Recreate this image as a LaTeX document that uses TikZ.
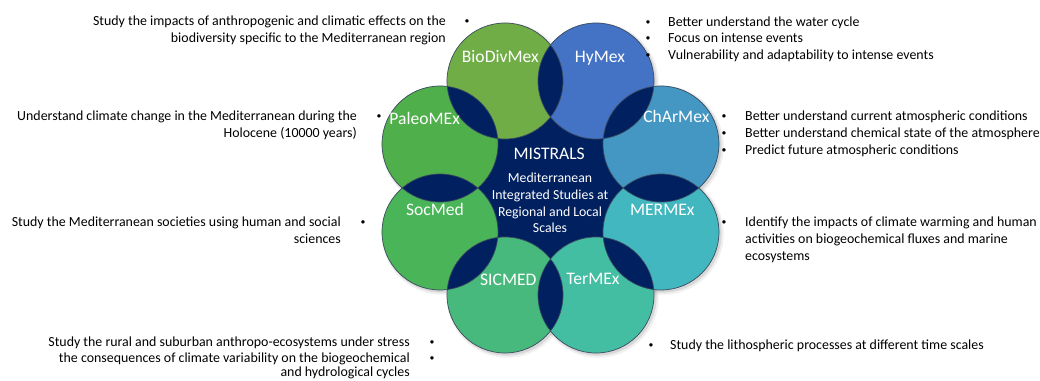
\documentclass[tikz,border=0pt]{standalone}
\usepackage{fontspec}
\setmainfont{Carlito}
\newfontfamily\bulfont{Liberation Sans}
\definecolor{navy}{HTML}{002060}
\definecolor{colBio}{HTML}{70AD47}
\definecolor{colHy}{HTML}{4472C4}
\definecolor{colChAr}{HTML}{4397C2}
\definecolor{colMer}{HTML}{43B7BF}
\definecolor{colTer}{HTML}{43BEA2}
\definecolor{colSic}{HTML}{47B97C}
\definecolor{colSoc}{HTML}{49B558}
\definecolor{colPal}{HTML}{4FAF4B}
\definecolor{edgecol}{HTML}{3A4A5E}
\tikzset{
  body/.style={font=\fontsize{13.9}{16.7}\selectfont, inner sep=0pt, text=black},
  bul/.style={font=\bulfont\fontsize{12.5}{16.7}\selectfont, inner sep=0pt, anchor=base},
  lab/.style={font=\fontsize{17.6}{21}\selectfont, inner sep=0pt, text=white, anchor=base},
  sub/.style={font=\fontsize{13.8}{16.7}\selectfont, inner sep=0pt, text=white, anchor=base},
  ring/.style={draw=edgecol, line width=0.7pt},
}
\newcommand{\rr}{58pt}
\begin{document}
\begin{tikzpicture}[x=1pt,y=-1pt]
\useasboundingbox (0,0) rectangle (1040,380);
% centres
\coordinate (mid) at (550.5,188);
\coordinate (cBio) at (505,81);
\coordinate (cHy) at (596,81);
\coordinate (cCh) at (661,144);
\coordinate (cMe) at (661,232);
\coordinate (cTe) at (596,295);
\coordinate (cSi) at (505,295);
\coordinate (cSo) at (440,232);
\coordinate (cPa) at (440,144);
% shadows
\foreach \c in {cBio,cHy,cCh,cMe,cTe,cSi,cSo,cPa}{
  \fill[black, opacity=0.06] ([shift={(2.2,2.2)}]\c) circle[radius=60.5pt];
  \fill[black, opacity=0.10] ([shift={(1.6,1.6)}]\c) circle[radius=59pt];
}
% navy centre
\fill[navy] (mid) circle[radius=110pt];
% coloured circles
\fill[colBio] (cBio) circle[radius=\rr];
\fill[colHy] (cHy) circle[radius=\rr];
\fill[colChAr] (cCh) circle[radius=\rr];
\fill[colMer] (cMe) circle[radius=\rr];
\fill[colTer] (cTe) circle[radius=\rr];
\fill[colSic] (cSi) circle[radius=\rr];
\fill[colSoc] (cSo) circle[radius=\rr];
\fill[colPal] (cPa) circle[radius=\rr];
% lenses
\foreach \a/\b in {cBio/cHy,cHy/cCh,cCh/cMe,cMe/cTe,cTe/cSi,cSi/cSo,cSo/cPa,cPa/cBio}{
  \begin{scope}
    \clip (\a) circle[radius=\rr];
    \fill[navy] (\b) circle[radius=\rr];
  \end{scope}
}
% outlines
\foreach \c in {cBio,cHy,cCh,cMe,cTe,cSi,cSo,cPa}{
  \draw[ring] (\c) circle[radius=\rr];
}
% circle labels
\node[lab] (lBio) at (500.3,62.7) {BioDivMex};
\node[lab] (lHy) at (600,62.7) {HyMex};
\node[lab] (lCh) at (676.3,122.7) {ChArMex};
\node[lab] (lPa) at (424.7,124) {PaleoMEx};
\node[lab] (lSo) at (435,215) {SocMed};
\node[lab] (lMe) at (662.3,215) {MERMEx};
\node[lab] (lSi) at (508.3,285) {SICMED};
\node[lab] (lTe) at (593,284) {TerMEx};
\node[lab] (lMi) at (549.2,159.3) {MISTRALS};
\node[sub] (s1) at (550,182.7) {Mediterranean};
\node[sub] (s2) at (550,199.3) {Integrated Studies at};
\node[sub] (s3) at (550,216) {Regional and Local};
\node[sub] (s4) at (550,232.7) {Scales};
% left texts
\node[body, anchor=base east] (tB1) at (446,25.3) {Study the impacts of anthropogenic and climatic effects on the};
\node[body, anchor=base east] (tB2) at (446,42) {biodiversity specific to the Mediterranean region};
\node[bul] (bB1) at (467,25.3) {•};
\node[body, anchor=base east] (tP1) at (357,120.7) {Understand climate change in the Mediterranean during the};
\node[body, anchor=base east] (tP2) at (357,137.3) {Holocene (10000 years)};
\node[bul] (bP1) at (379,120.7) {•};
\node[body, anchor=base east] (tS1) at (341,226.7) {Study the Mediterranean societies using human and social};
\node[body, anchor=base east] (tS2) at (341,243.3) {sciences};
\node[bul] (bS1) at (363,226.7) {•};
\node[body, anchor=base east] (tI1) at (410,346.3) {Study the rural and suburban anthropo-ecosystems under stress};
\node[body, anchor=base east] (tI2) at (410,362.5) {the consequences of climate variability on the biogeochemical};
\node[body, anchor=base east] (tI3) at (410,376.6) {and hydrological cycles};
\node[bul] (bI1) at (432,346.3) {•};
\node[bul] (bI2) at (432,362.5) {•};
% right texts
\node[bul] (bH1) at (648,26) {•};
\node[bul] (bH2) at (648,42.7) {•};
\node[bul] (bH3) at (648,59.3) {•};
\node[body, anchor=base west] (tH1) at (668,26) {Better understand the water cycle};
\node[body, anchor=base west] (tH2) at (668,42.7) {Focus on intense events};
\node[body, anchor=base west] (tH3) at (668,59.3) {Vulnerability and adaptability to intense events};
\node[bul] (bC1) at (724,120.7) {•};
\node[bul] (bC2) at (724,137.3) {•};
\node[bul] (bC3) at (724,154) {•};
\node[body, anchor=base west] (tC1) at (745,120.7) {Better understand current atmospheric conditions};
\node[body, anchor=base west] (tC2) at (745,137.3) {Better understand chemical state of the atmosphere};
\node[body, anchor=base west] (tC3) at (745,154) {Predict future atmospheric conditions};
\node[bul] (bM1) at (724,226.7) {•};
\node[body, anchor=base west] (tM1) at (745,226.7) {Identify the impacts of climate warming and human};
\node[body, anchor=base west] (tM2) at (745,243.3) {activities on biogeochemical fluxes and marine};
\node[body, anchor=base west] (tM3) at (745,260) {ecosystems};
\node[bul] (bT1) at (651,349.3) {•};
\node[body, anchor=base west] (tT1) at (670,349.3) {Study the lithospheric processes at different time scales};
\end{tikzpicture}
\end{document}
